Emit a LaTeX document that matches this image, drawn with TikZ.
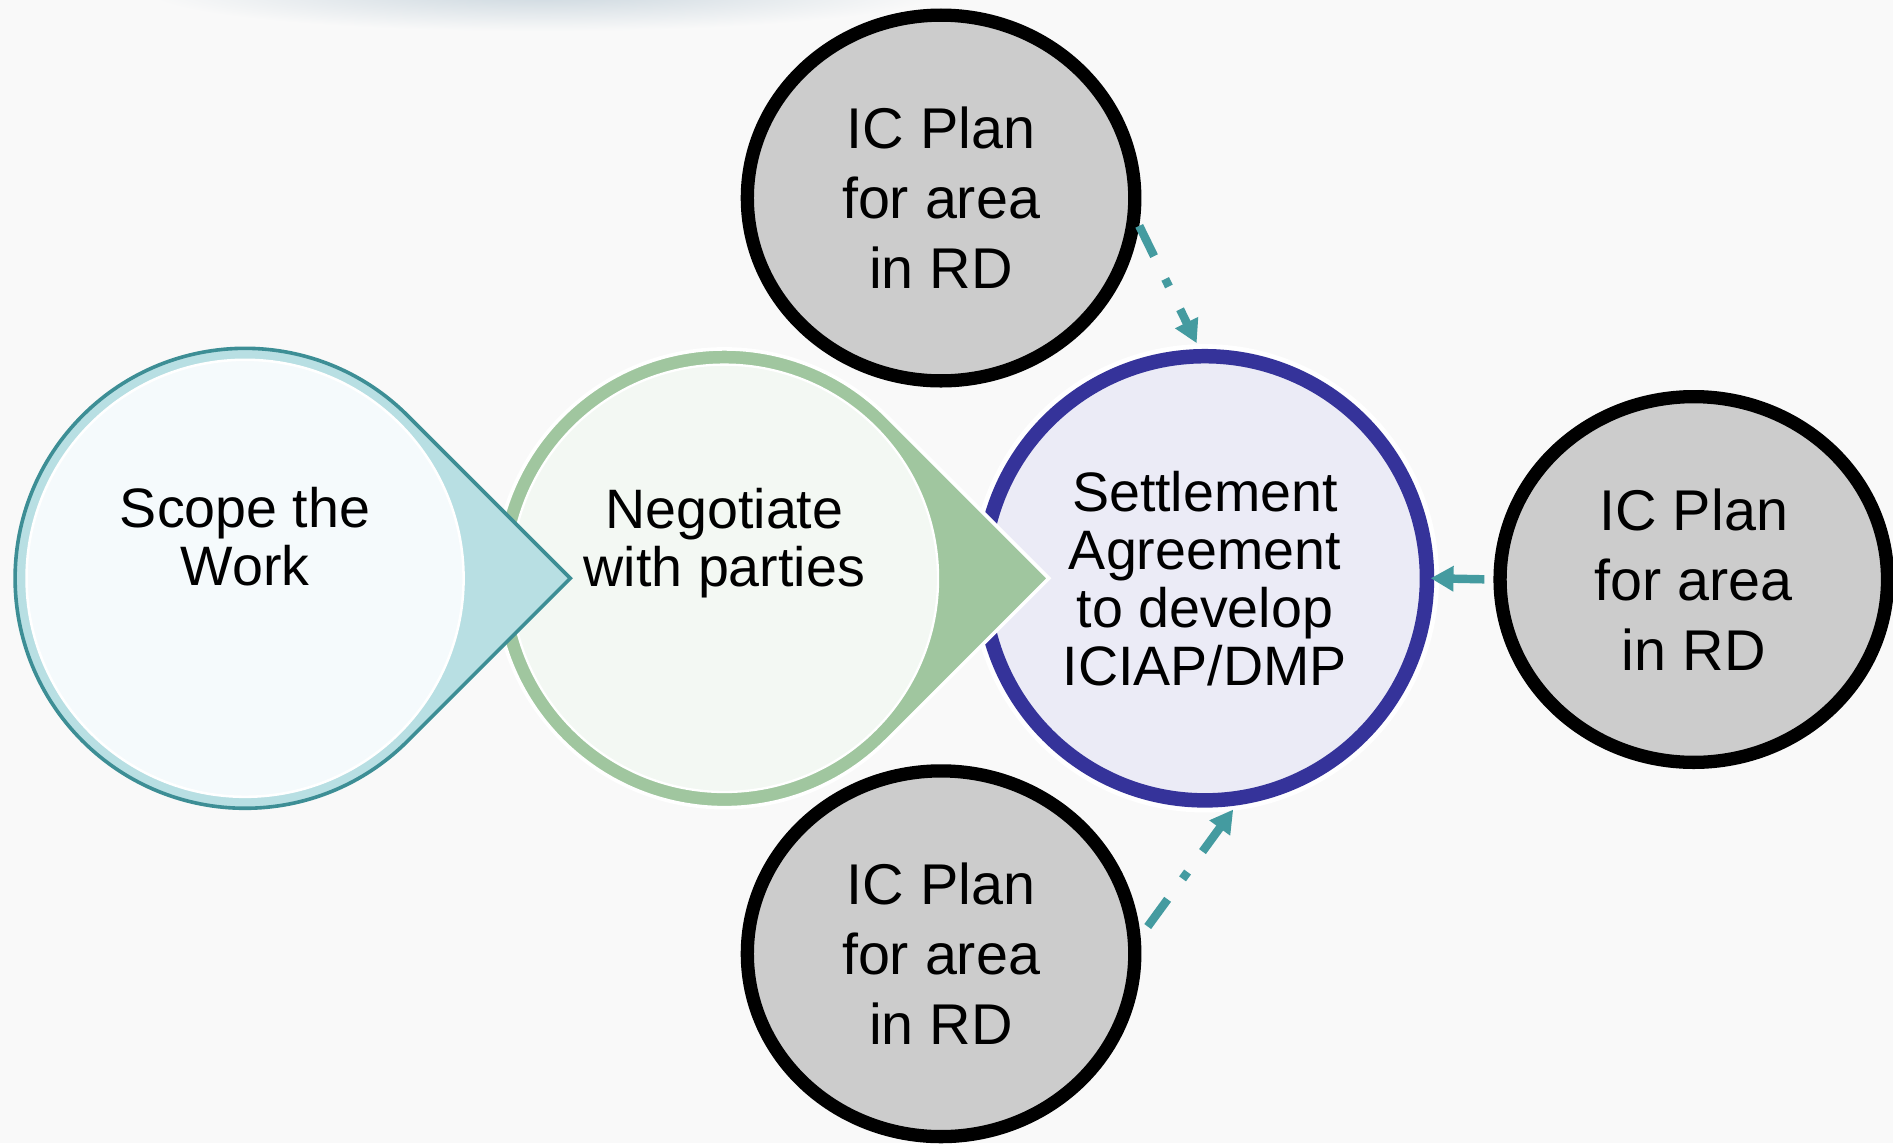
\documentclass[tikz,border=0pt]{standalone}
\usepackage{fontspec}
\setmainfont{Liberation Sans}
\usetikzlibrary{arrows.meta,calc,shapes.geometric}
\definecolor{bgc}{HTML}{F9F9F9}
\definecolor{shadowc}{HTML}{C9D5DD}
\definecolor{icgray}{HTML}{CCCCCC}
\definecolor{setblue}{HTML}{35339A}
\definecolor{setfill}{HTML}{EBEBF6}
\definecolor{neggreen}{HTML}{A0C69F}
\definecolor{negfill}{HTML}{F3F8F3}
\definecolor{scopeteal}{HTML}{3D8E95}
\definecolor{scopeband}{HTML}{B8DFE3}
\definecolor{scopefill}{HTML}{F5FAFC}
\definecolor{arrowteal}{HTML}{449BA0}
\begin{document}
\begin{tikzpicture}[x=0.02cm,y=-0.02cm,
  icplan/.style={ellipse, draw=black, line width=6.26pt, fill=icgray,
    minimum width=6.42cm, minimum height=6.06cm, inner sep=0pt, align=center,
    font=\fontsize{27.1}{33}\selectfont},
  settlebox/.style={circle, draw=setblue, line width=6.83pt, fill=setfill,
    preaction={draw=white, line width=11.4pt},
    minimum size=7.36cm, inner sep=0pt, align=center,
    font=\fontsize{26.2}{27.3}\selectfont},
  steptext/.style={align=center, inner sep=0pt, font=\fontsize{26.2}{27.3}\selectfont},
  conn/.style={draw=arrowteal, line width=3.98pt,
    dash pattern=on 15.9pt off 11.95pt on 3.98pt off 11.95pt,
    -{Triangle[length=10.8pt, width=11.4pt]}}
]
\useasboundingbox (0,0) rectangle (1568,946.8);
\fill[bgc] (0,0) rectangle (1568,946.8);
\shade[inner color=shadowc, outer color=bgc] (450,-8) ellipse [x radius=330, y radius=34];

% IC plan circles
\node[icplan] (ic1) at (779.5,164) {IC Plan\\for area\\in RD};
\node[icplan] (ic2) at (1403,480) {IC Plan\\for area\\in RD};
\node[icplan] (ic3) at (779.5,790) {IC Plan\\for area\\in RD};

% Settlement
\node[settlebox] (settle) at (998,479) {Settlement\\Agreement\\to develop\\ICIAP/DMP};

% Negotiate teardrop
\filldraw[fill=neggreen, draw=white, line width=1.7pt]
  (868.7,479) -- ($(600,479)+(45:190)$) arc[start angle=45, end angle=315, radius=190] -- cycle;
\filldraw[fill=negfill, draw=white, line width=1.1pt] (600,479) circle[radius=177];
\node[steptext] (neg) at (600,449.5) {Negotiate\\with parties};

% Scope teardrop
\filldraw[fill=scopeband, draw=scopeteal, line width=1.7pt]
  (472.4,479) -- ($(203,479)+(45:190.5)$) arc[start angle=45, end angle=315, radius=190.5] -- cycle;
\filldraw[fill=scopefill, draw=white, line width=1.2pt] (203,479) circle[radius=181];
\node[steptext] (scope) at (203,444.5) {Scope the\\Work};

% Connectors
\draw[conn] (ic1.-8) -- ([shift={(92:2.8pt)}]settle.92);
\draw[conn, shorten <=5.7pt] (ic3.5.5) -- ([shift={(-83.3:1.7pt)}]settle.-83.3);
\draw[conn, shorten <=4.3pt, shorten >=-1.7pt] (ic2.180) -- (settle.0);
\end{tikzpicture}
\end{document}
